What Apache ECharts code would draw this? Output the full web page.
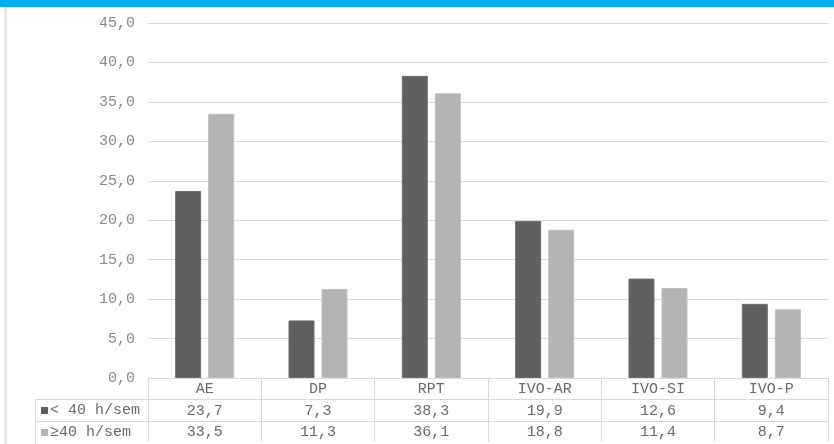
<!DOCTYPE html>
<html><head><meta charset="utf-8">
<script src="https://cdn.jsdelivr.net/npm/echarts@6/dist/echarts.min.js"></script>
<style>html,body{margin:0;padding:0;background:#fff}#c{width:834px;height:444px}</style>
</head><body><div id="c"></div>
<script>
var categories = ['AE', 'DP', 'RPT', 'IVO-AR', 'IVO-SI', 'IVO-P'];
var seriesNames = ['< 40 h/sem', '\u226540 h/sem'];
var under40 = [23.7, 7.3, 38.3, 19.9, 12.6, 9.4];
var over40 = [33.5, 11.3, 36.1, 18.8, 11.4, 8.7];
var yTicks = {min: 0, max: 45, interval: 5};

var FONT = '"Liberation Mono", "Courier New", monospace';
var DARK = '#5f5f5f', LIGHT = '#b3b3b3', GRID = '#d9d9d9';
var TXT = '#6a6a6a';
function fmt(v) { return Number(v).toFixed(1).replace('.', ','); }

var gLeft = 148, gRight = 6, gTop = 23, gBottom = 66;
var chart = echarts.init(document.getElementById('c'), null, {renderer: 'canvas'});

function tableAxis(data, margin, extra) {
  var a = {
    type: 'category', gridIndex: 0, position: 'bottom', data: data,
    axisLine: {show: false}, axisTick: {show: false}, splitLine: {show: false},
    axisLabel: {interval: 0, margin: margin, verticalAlign: 'middle', color: TXT,
      fontFamily: FONT, fontSize: 15}
  };
  if (extra) for (var k in extra) a[k] = extra[k];
  return a;
}

var option = {
  animation: false,
  backgroundColor: '#fff',
  grid: {left: gLeft, right: gRight, top: gTop, bottom: gBottom, containLabel: false},
  xAxis: [
    tableAxis(categories, 11, {
      axisLine: {show: true, lineStyle: {color: GRID, width: 1}},
      axisTick: {show: true, length: 64, lineStyle: {color: GRID, width: 1}}
    }),
    tableAxis(under40.map(fmt), 33),
    tableAxis(over40.map(fmt), 54)
  ],
  yAxis: {
    type: 'value', min: yTicks.min, max: yTicks.max, interval: yTicks.interval,
    axisLine: {show: false}, axisTick: {show: false},
    splitLine: {lineStyle: {color: GRID, width: 1}},
    axisLabel: {formatter: fmt, color: '#8a8a8a', fontFamily: FONT, fontSize: 15, margin: 13}
  },
  series: [
    {name: seriesNames[0], type: 'bar', xAxisIndex: 0, data: under40, barWidth: 26, barGap: '27%',
      itemStyle: {color: DARK, borderColor: '#6e6e6e', borderWidth: 1}},
    {name: seriesNames[1], type: 'bar', xAxisIndex: 0, data: over40, barWidth: 26, barGap: '27%',
      itemStyle: {color: LIGHT, borderColor: '#c0c0c0', borderWidth: 1}}
  ],
  graphic: [
    {type: 'rect', left: 0, top: 0, shape: {x: 0, y: 0, width: 834, height: 7}, style: {fill: '#00adef'}, z: 10},
    {type: 'line', shape: {x1: 5.5, y1: 7, x2: 5.5, y2: 444}, style: {stroke: '#e0e0e0', lineWidth: 2}},
    {type: 'line', shape: {x1: 35.5, y1: 399.5, x2: 828, y2: 399.5}, style: {stroke: GRID, lineWidth: 1}},
    {type: 'line', shape: {x1: 35.5, y1: 421.5, x2: 828, y2: 421.5}, style: {stroke: GRID, lineWidth: 1}},
    {type: 'line', shape: {x1: 35.5, y1: 399.5, x2: 35.5, y2: 444}, style: {stroke: GRID, lineWidth: 1}},
    {type: 'rect', shape: {x: 41, y: 407, width: 7, height: 7}, style: {fill: DARK}},
    {type: 'rect', shape: {x: 41, y: 429, width: 7, height: 7}, style: {fill: LIGHT}},
    {type: 'text', x: 50, y: 410.5, style: {text: seriesNames[0], fill: TXT, font: '15px ' + FONT, verticalAlign: 'middle'}},
    {type: 'text', x: 50, y: 432.5, style: {text: seriesNames[1], fill: TXT, font: '15px ' + FONT, verticalAlign: 'middle'}}
  ]
};
chart.setOption(option);
</script></body></html>
